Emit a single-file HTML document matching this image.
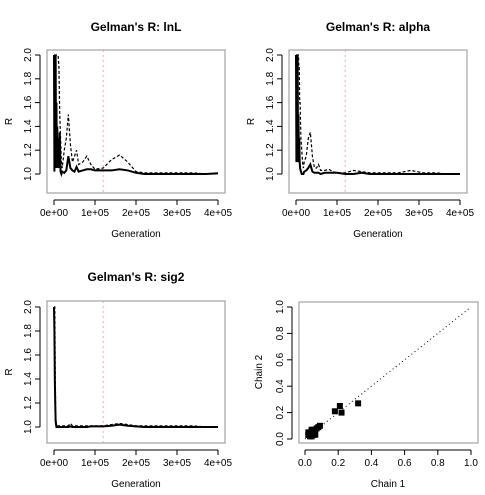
<!DOCTYPE html>
<html><head><meta charset="utf-8"><style>
body{margin:0;background:#fff;}
svg{display:block;font-family:"Liberation Sans",Arial,sans-serif;}
</style></head><body>
<svg id="c" width="485" height="495" viewBox="0 0 485 495"></svg>
<script>
const gens=[0,1000,2000,3000,4000,5000,6000,7000,8000,9000,10000,12000,14000,16000,18000,20000,25000,30000,35000,40000,45000,50000,55000,60000,70000,80000,90000,100000,120000,140000,160000,180000,200000,220000,250000,280000,310000,340000,370000,400000];
const lnlMed=[2.0,1.02,2.0,1.05,2.0,1.1,1.6,1.05,1.4,1.1,1.3,1.05,1.35,1.02,1.0,1.02,1.01,1.03,1.15,1.05,1.03,1.02,1.06,1.02,1.03,1.04,1.04,1.03,1.03,1.03,1.04,1.03,1.01,1.0,1.0,1.0,1.0,1.0,1.0,1.005];
const lnlUp=[2.0,2.0,2.0,2.0,2.0,2.0,2.0,2.0,2.0,2.0,2.0,1.9,1.5,1.3,1.1,1.05,1.2,1.3,1.5,1.25,1.1,1.15,1.2,1.08,1.1,1.15,1.08,1.04,1.05,1.12,1.16,1.1,1.02,1.01,1.01,1.01,1.01,1.01,1.0,1.01];
const alphaMed=[2.0,1.1,2.0,1.2,2.0,1.1,1.5,1.2,1.3,1.1,1.05,1.02,1.0,1.0,1.0,1.02,1.03,1.05,1.08,1.02,1.01,1.01,1.01,1.0,1.01,1.01,1.01,1.01,1.0,1.0,1.01,1.0,1.0,1.0,1.0,1.0,1.0,1.0,1.0,1.0];
const alphaUp=[2.0,2.0,2.0,2.0,2.0,2.0,2.0,1.9,1.9,1.6,1.6,1.3,1.2,1.1,1.05,1.1,1.15,1.3,1.35,1.15,1.05,1.05,1.08,1.03,1.03,1.04,1.02,1.01,1.01,1.03,1.02,1.01,1.01,1.01,1.01,1.03,1.01,1.01,1.0,1.0];
const sigMed=[2.0,1.8,1.4,1.2,1.05,1.02,1.0,1.0,1.0,1.0,1.0,1.0,1.0,1.0,1.0,1.0,1.0,1.0,1.0,1.005,1.0,1.0,1.0,1.0,1.0,1.0,1.005,1.005,1.005,1.01,1.02,1.01,1.005,1.0,1.0,1.0,1.0,1.0,1.0,1.0];
const sigUp=[2.0,2.0,2.0,1.5,1.1,1.05,1.02,1.01,1.01,1.01,1.01,1.01,1.01,1.01,1.01,1.01,1.01,1.01,1.01,1.03,1.01,1.01,1.01,1.01,1.01,1.01,1.01,1.01,1.01,1.02,1.03,1.02,1.01,1.01,1.01,1.01,1.01,1.01,1.0,1.0];
const chain1=[0.02,0.03,0.04,0.05,0.06,0.03,0.04,0.05,0.07,0.08,0.09,0.02,0.03,0.06,0.18,0.21,0.22,0.32,0.04,0.05];
const chain2=[0.03,0.04,0.02,0.05,0.06,0.05,0.07,0.03,0.08,0.09,0.1,0.05,0.02,0.04,0.21,0.25,0.2,0.27,0.06,0.07];
const xTicks=[0,100000,200000,300000,400000];
const xTickLabels=["0e+00","1e+05","2e+05","3e+05","4e+05"];
const rTicks=[1.0,1.2,1.4,1.6,1.8,2.0];
const sTicks=[0,0.2,0.4,0.6,0.8,1.0];
const NS="http://www.w3.org/2000/svg";
const svg=document.getElementById('c');
function el(t,a,p){const e=document.createElementNS(NS,t);for(const k in a)e.setAttribute(k,a[k]);(p||svg).appendChild(e);return e;}
function txt(s,a,p){const e=el('text',a,p);e.textContent=s;return e;}

function rPanel(ox,oy,title,med,up,name,yTop,yOne,boxTop,boxBot){
  const g=el('g',{});
  
  
  const xs=v=>ox+54+v/400000*164;
  const ys=v=>yOne-(v-1)*(yOne-yTop);
  const L=ox+47,R=ox+225;
  const clip=el('clipPath',{id:'cl'+name},g);
  el('rect',{x:L,y:boxTop,width:R-L,height:boxBot-boxTop},clip);
  const t=txt(title,{x:(L+R)/2,y:oy+31,'text-anchor':'middle','font-size':12,'font-weight':'bold'},g);
  
  const vl=el('line',{x1:xs(120000),x2:xs(120000),y1:boxTop,y2:boxBot,stroke:'#e8b0b8','stroke-width':1,'stroke-dasharray':'2,3'},g);
  
  const cg=el('g',{'clip-path':'url(#cl'+name+')'},g);
  const p2=el('polyline',{points:gens.map((x,i)=>xs(x)+','+ys(up[i])).join(' '),fill:'none',stroke:'#000','stroke-width':1.2,'stroke-dasharray':'3,2'},cg);
  
  const p1=el('polyline',{points:gens.map((x,i)=>xs(x)+','+ys(med[i])).join(' '),fill:'none',stroke:'#000','stroke-width':2},cg);
  
  const b=el('rect',{x:L,y:boxTop,width:R-L,height:boxBot-boxTop,fill:'none',stroke:'#aaa','stroke-width':1.3},g);
  
  el('line',{x1:xs(0),x2:xs(400000),y1:boxBot+7,y2:boxBot+7,stroke:'#000'},g);
  xTicks.forEach((v,i)=>{el('line',{x1:xs(v),x2:xs(v),y1:boxBot+7,y2:boxBot+12,stroke:'#000'},g);
    txt(xTickLabels[i],{x:xs(v),y:boxBot+23,'text-anchor':'middle','font-size':10},g);});
  el('line',{x1:L-7,x2:L-7,y1:ys(2),y2:ys(1),stroke:'#000'},g);
  rTicks.forEach(v=>{el('line',{x1:L-12,x2:L-7,y1:ys(v),y2:ys(v),stroke:'#000'},g);
    txt(v.toFixed(1),{x:L-16,y:ys(v),'text-anchor':'middle','font-size':10,transform:'rotate(-90 '+(L-16)+' '+ys(v)+')'},g);});
  const xl=txt('Generation',{x:(L+R)/2,y:oy+237,'text-anchor':'middle','font-size':10},g);
  
  const yl=txt('R',{x:ox+12,y:(boxTop+boxBot)/2,'text-anchor':'middle','font-size':10,transform:'rotate(-90 '+(ox+12)+' '+(boxTop+boxBot)/2+')'},g);
  
}
rPanel(0,0,"Gelman's R: lnL",lnlMed,lnlUp,'lnl',55,174,50,193);
rPanel(242,0,"Gelman's R: alpha",alphaMed,alphaUp,'alpha',55,174,50,193);
rPanel(0,250,"Gelman's R: sig2",sigMed,sigUp,'sig2',307,427,301,443);

(function(){
  const g=el('g',{});
  
  
  const xs=v=>305+v*166, ys=v=>439-v*132;
  const L=299,R=478,T=302,B=443;
  el('line',{x1:xs(0),y1:ys(0),x2:xs(1),y2:ys(1),stroke:'#000','stroke-dasharray':'1,3'},g);
  chain1.forEach((v,i)=>{const r=el('rect',{x:xs(v)-3,y:ys(chain2[i])-3,width:6,height:6,fill:'#000'},g);
    });
  el('rect',{x:xs(0.005),y:ys(0.06),width:xs(0.08)-xs(0.005),height:ys(0.01)-ys(0.06),fill:'#000'},g);
  el('rect',{x:L,y:T,width:R-L,height:B-T,fill:'none',stroke:'#aaa','stroke-width':1.3},g);
  el('line',{x1:xs(0),x2:xs(1),y1:B+7,y2:B+7,stroke:'#000'},g);
  el('line',{x1:L-7,x2:L-7,y1:ys(0),y2:ys(1),stroke:'#000'},g);
  sTicks.forEach(v=>{el('line',{x1:xs(v),x2:xs(v),y1:B+7,y2:B+12,stroke:'#000'},g);
    txt(v.toFixed(1),{x:xs(v),y:B+23,'text-anchor':'middle','font-size':10},g);
    el('line',{x1:L-12,x2:L-7,y1:ys(v),y2:ys(v),stroke:'#000'},g);
    txt(v.toFixed(1),{x:L-16,y:ys(v),'text-anchor':'middle','font-size':10,transform:'rotate(-90 '+(L-16)+' '+ys(v)+')'},g);});
  const xl=txt('Chain 1',{x:388,y:487,'text-anchor':'middle','font-size':10},g);
  
  const yl=txt('Chain 2',{x:262,y:372,'text-anchor':'middle','font-size':10,transform:'rotate(-90 262 372)'},g);
  
})();
</script>
</body></html>
